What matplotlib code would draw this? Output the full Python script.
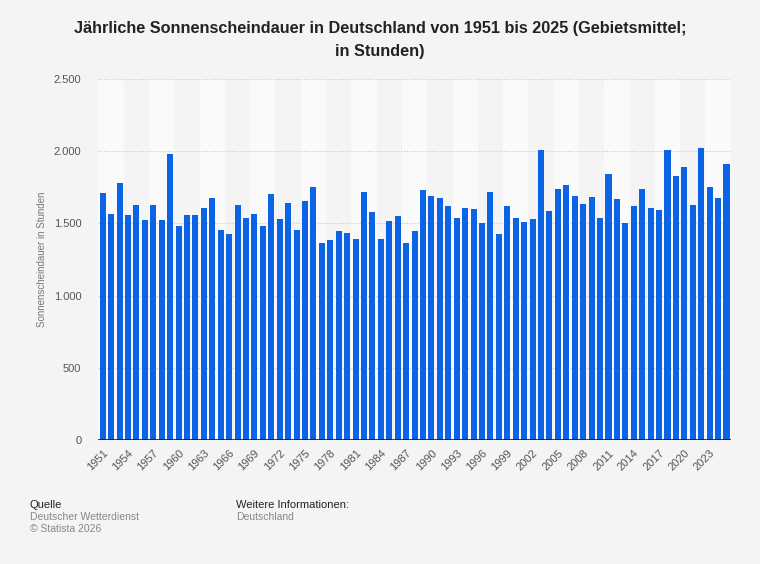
import matplotlib
matplotlib.use("Agg")
import matplotlib.pyplot as plt
from matplotlib.ticker import FuncFormatter

years = list(range(1951, 2026))
hours = [
    1711, 1567, 1780, 1556, 1630, 1521, 1630, 1521, 1981, 1479,
    1556, 1556, 1604, 1674, 1454, 1428, 1630, 1539, 1567, 1479,
    1701, 1528, 1639, 1451, 1653, 1750, 1361, 1382, 1444, 1435,
    1389, 1715, 1576, 1393, 1514, 1549, 1366, 1444, 1729, 1687,
    1674, 1618, 1535, 1604, 1597, 1500, 1715, 1428, 1618, 1539,
    1507, 1528, 2009, 1583, 1738, 1764, 1687, 1632, 1683, 1535,
    1843, 1667, 1500, 1618, 1738, 1604, 1593, 2009, 1829, 1891,
    1627, 2023, 1750, 1674, 1912,
]
y_ticks = [0, 500, 1000, 1500, 2000, 2500]

plt.rcParams["font.family"] = ["Liberation Sans", "DejaVu Sans"]

fig = plt.figure(figsize=(7.6, 5.64), dpi=100)
fig.patch.set_facecolor("#f4f4f4")
ax = fig.add_axes([0.129, 0.22, 0.833, 0.64])
ax.set_facecolor("#f4f4f4")

x = list(range(len(years)))

# alternating background bands, three years each
for i in range(0, len(years), 6):
    ax.axvspan(i - 0.5, i + 2.5, color="#fafafa", zorder=0, lw=0)

for t in y_ticks[1:]:
    ax.axhline(t, color="#c8c8c8", lw=0.8, ls=(0, (1, 1.5)), zorder=1)

ax.bar(x, hours, width=0.72, color="#0b63e5", zorder=2)
ax.axhline(0, color="#1a1a2e", lw=1.2, zorder=3)

ax.set_xlim(-0.55, len(years) - 0.45)
ax.set_ylim(0, 2500)
ax.set_yticks(y_ticks)
ax.yaxis.set_major_formatter(FuncFormatter(lambda v, p: f"{int(v):,}".replace(",", ".")))
ax.set_xticks(x[::3])
ax.set_xticklabels([str(y) for y in years[::3]], rotation=45, ha="right",
                   rotation_mode="anchor")
ax.tick_params(axis="both", length=0, labelsize=8, labelcolor="#555555")
ax.tick_params(axis="y", pad=12)
ax.tick_params(axis="x", pad=6)
for s in ax.spines.values():
    s.set_visible(False)

ax.set_ylabel("Sonnenscheindauer in Stunden", fontsize=7, color="#777777", labelpad=5)

fig.text(0.5, 0.962, "Jährliche Sonnenscheindauer in Deutschland von 1951 bis 2025 (Gebietsmittel;\nin Stunden)",
         ha="center", va="top", fontsize=11.7, fontweight="bold", color="#222222",
         linespacing=1.6)

fig.text(0.039, 0.100, "Quelle", fontsize=8, color="#222222")
fig.text(0.039, 0.078, "Deutscher Wetterdienst", fontsize=7.5, color="#888888")
fig.text(0.039, 0.056, "© Statista 2026", fontsize=7.5, color="#888888")
fig.text(0.311, 0.100, "Weitere Informationen:", fontsize=8, color="#222222")
fig.text(0.311, 0.078, "Deutschland", fontsize=7.5, color="#888888")

fig.savefig("out.png", dpi=100, facecolor=fig.get_facecolor())
